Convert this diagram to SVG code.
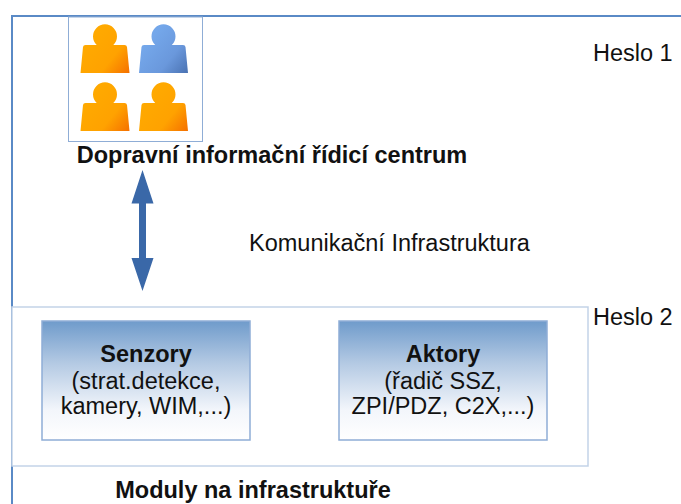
<svg xmlns="http://www.w3.org/2000/svg" width="681" height="504" viewBox="0 0 681 504">
<style>
text{font-family:"Liberation Sans",Arial,sans-serif;fill:#111}
.b{font-weight:700}
.m{text-anchor:middle}
.box{fill:url(#g);stroke:#8fadd6;stroke-width:1.5}
.t{font-size:23.5px}
</style>
<defs>
<linearGradient id="g" x1="0" y1="0" x2="0" y2="1"><stop offset="0" stop-color="#6f9bcb"/><stop offset=".35" stop-color="#b3c9e3"/><stop offset=".75" stop-color="#f3f6fb"/><stop offset="1" stop-color="#fff"/></linearGradient>
<linearGradient id="o" x1="0.2" y1="0.35" x2="1" y2="1"><stop offset="0" stop-color="#ffa900"/><stop offset=".55" stop-color="#ffa200"/><stop offset="1" stop-color="#f57000"/></linearGradient>
<linearGradient id="u" x1="0.2" y1="0.35" x2="1" y2="1"><stop offset="0" stop-color="#74a7ea"/><stop offset=".55" stop-color="#6a98dc"/><stop offset="1" stop-color="#4a72b2"/></linearGradient>
<path id="p" d="M0 28L2.500 2Q2.800 0 5 0H16.200A12 12 0 1 1 32.800 0H44Q46.200 0 46.500 2L49 28Z"/>
</defs>
<g id="frame"><path d="M12 504V16H681" fill="none" stroke="#5a8ac6" stroke-width="2"/></g>
<g id="modules"><rect x="12" y="307" width="576" height="159" fill="#fff" stroke="#c3d3e8" stroke-width="1.500"/></g>
<g id="center">
<rect x="68.500" y="17" width="134" height="124.500" fill="#fff" stroke="#8fadd6" stroke-width="1"/>
<use href="#p" x="80.500" y="45" fill="url(#o)"/>
<use href="#p" x="139" y="45" fill="url(#u)"/>
<use href="#p" x="80.500" y="103" fill="url(#o)"/>
<use href="#p" x="139" y="103" fill="url(#o)"/>
<text class="b m t" x="272" y="163">Dopravní informační řídicí centrum</text>
</g>
<g id="connectors"><path d="M142.500 170L153.500 203.500H146V258H153.500L142.500 291L131.500 258H139V203.500H131.500Z" fill="#3a68a8"/></g>
<text class="t" x="249" y="251">Komunikační Infrastruktura</text>
<text class="t" x="593" y="61">Heslo 1</text>
<text class="t" x="593" y="325">Heslo 2</text>
<g id="senzory"><rect class="box" x="42" y="321" width="208" height="119"/>
<text class="m b t" x="146" y="362">Senzory</text>
<text class="m t" x="146" y="389">(strat.detekce,</text>
<text class="m t" x="146" y="414">kamery, WIM,...)</text></g>
<g id="aktory"><rect class="box" x="339" y="321" width="208" height="119"/>
<text class="m b t" x="443" y="362">Aktory</text>
<text class="m t" x="443" y="389">(řadič SSZ,</text>
<text class="m t" x="443" y="414">ZPI/PDZ, C2X,...)</text></g>
<text class="b m t" x="253" y="498">Moduly na infrastruktuře</text>
</svg>
